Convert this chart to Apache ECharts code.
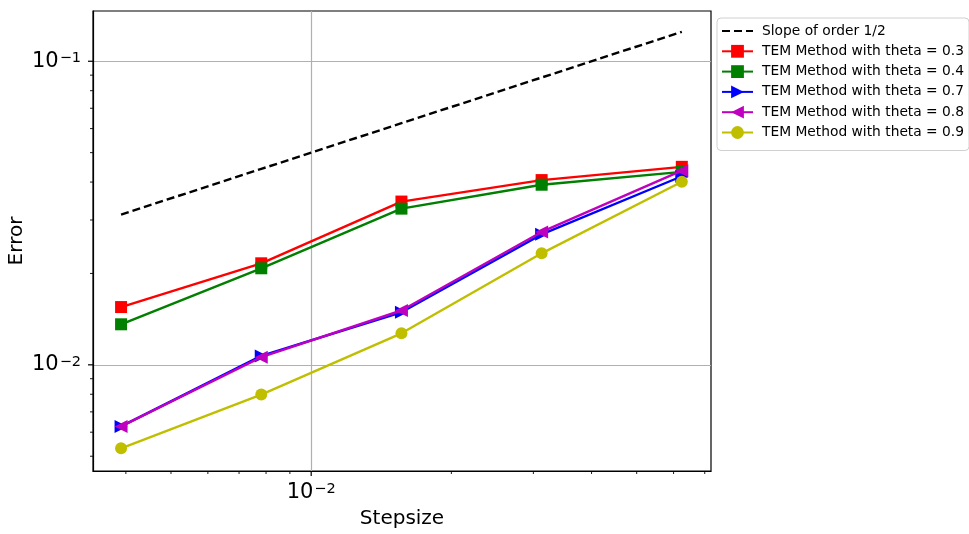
<!DOCTYPE html>
<html><head><meta charset="utf-8">
<script src="https://cdn.jsdelivr.net/npm/echarts@6/dist/echarts.min.js"></script>
<style>html,body{margin:0;padding:0;background:#fff}#c{width:969px;height:534px}</style>
</head><body><div id="c"></div>
<script>
// ---- data ----
const stepsizes = [0.00390625, 0.0078125, 0.015625, 0.03125, 0.0625];
const slopeRef = [0.03125, 0.0442, 0.0625, 0.0884, 0.125];
const theta03 = [0.0155, 0.0216, 0.0345, 0.0406, 0.0449];
const theta04 = [0.0136, 0.0208, 0.0327, 0.0392, 0.0432];
const theta07 = [0.00627, 0.0107, 0.0149, 0.0269, 0.0418];
const theta08 = [0.00627, 0.0106, 0.0151, 0.0274, 0.0436];
const theta09 = [0.00531, 0.00798, 0.0127, 0.0233, 0.0401];
const seriesNames = ['Slope of order 1/2', 'TEM Method with theta = 0.3', 'TEM Method with theta = 0.4',
  'TEM Method with theta = 0.7', 'TEM Method with theta = 0.8', 'TEM Method with theta = 0.9'];
const xMajorTicks = [0.01];
const xMinorTicks = [0.004, 0.005, 0.006, 0.007, 0.008, 0.009, 0.02, 0.03, 0.04, 0.05, 0.06, 0.07];
const yMajorTicks = [0.01, 0.1];
const yMinorTicks = [0.005, 0.006, 0.007, 0.008, 0.009, 0.02, 0.03, 0.04, 0.05, 0.06, 0.07, 0.08, 0.09];
const xRange = [0.0034, 0.0722];
const yRange = [0.00447, 0.1464];

// ---- helpers ----
function pairs(ys) { return stepsizes.map((x, i) => [x, ys[i]]); }
function isPow10(v) { const l = Math.log10(v); return Math.abs(l - Math.round(l)) < 1e-6; }
function powLabel(v) {
  if (!isPow10(v)) return '';
  const e = Math.round(Math.log10(v));
  return '{b|10}{s|' + (e < 0 ? '\u2212' : '') + Math.abs(e) + '}';
}
const richLbl = {
  b: { fontSize: 21, fontFamily: 'DejaVu Sans', color: '#000' },
  s: { fontSize: 14.5, fontFamily: 'DejaVu Sans', color: '#000', verticalAlign: 'top', padding: [0, 0, 0, 1] }
};
function tickLine(x1, y1, x2, y2, major) {
  return { type: 'line', shape: { x1, y1, x2, y2 }, style: { stroke: '#000', lineWidth: major ? 1.2 : 0.9 } };
}

const chart = echarts.init(document.getElementById('c'), null, { renderer: 'canvas' });
const lineW = 2.4;
const option = {
  animation: false,
  backgroundColor: '#fff',
  grid: { left: 93, right: 258, top: 11, bottom: 63, containLabel: false, outerBoundsMode: 'none',
    show: true, borderColor: '#000', borderWidth: 1.2, backgroundColor: 'transparent' },
  legend: {
    orient: 'vertical', left: 717, top: 18,
    padding: [6, 5, 11, 4], itemGap: 6.3, itemWidth: 31, itemHeight: 16,
    borderColor: '#d0d0d0', borderWidth: 1, borderRadius: 4,
    textStyle: { fontFamily: 'DejaVu Sans', fontSize: 13.8, color: '#000', padding: [0, 0, 0, 4] },
    data: [{ name: seriesNames[0], itemStyle: { opacity: 0 } }].concat(seriesNames.slice(1))
  },
  xAxis: {
    type: 'log', logBase: 10, min: xRange[0], max: xRange[1],
    name: 'Stepsize', nameLocation: 'middle', nameGap: 38, nameMoveOverlap: false,
    nameTextStyle: { fontFamily: 'DejaVu Sans', fontSize: 20, color: '#000' },
    axisLine: { show: true, lineStyle: { color: '#000', width: 1.2 } },
    axisTick: { show: false },
    axisLabel: { formatter: powLabel, rich: richLbl, margin: 11, showMinLabel: false, showMaxLabel: false },
    splitLine: { show: true, showMinLine: false, showMaxLine: false, lineStyle: { color: '#b0b0b0', width: 1.2 } },
    minorTick: { show: false }, minorSplitLine: { show: false }
  },
  yAxis: {
    type: 'log', logBase: 10, min: yRange[0], max: yRange[1],
    name: 'Error', nameLocation: 'middle', nameGap: 66, nameRotate: 90, nameMoveOverlap: false,
    nameTextStyle: { fontFamily: 'DejaVu Sans', fontSize: 20, color: '#000' },
    axisLine: { show: true, lineStyle: { color: '#000', width: 1.2 } },
    axisTick: { show: false },
    axisLabel: { formatter: powLabel, rich: richLbl, margin: 12, showMinLabel: false, showMaxLabel: false },
    splitLine: { show: true, showMinLine: false, showMaxLine: false, lineStyle: { color: '#b0b0b0', width: 1.2 } },
    minorTick: { show: false }, minorSplitLine: { show: false }
  },
  series: [
    { name: seriesNames[0], type: 'line', data: pairs(slopeRef), showSymbol: false, symbol: 'none',
      lineStyle: { color: '#000', width: lineW, type: [8, 4] }, itemStyle: { color: '#000' }, z: 3 },
    { name: seriesNames[1], type: 'line', data: pairs(theta03), symbol: 'rect', symbolSize: 12,
      lineStyle: { color: '#ff0000', width: lineW }, itemStyle: { color: '#ff0000' }, z: 4 },
    { name: seriesNames[2], type: 'line', data: pairs(theta04), symbol: 'rect', symbolSize: 12,
      lineStyle: { color: '#007f00', width: lineW }, itemStyle: { color: '#007f00' }, z: 5 },
    { name: seriesNames[3], type: 'line', data: pairs(theta07), symbol: 'triangle', symbolSize: 13, symbolRotate: -90,
      lineStyle: { color: '#0000ff', width: lineW }, itemStyle: { color: '#0000ff' }, z: 6 },
    { name: seriesNames[4], type: 'line', data: pairs(theta08), symbol: 'triangle', symbolSize: 13, symbolRotate: 90,
      lineStyle: { color: '#bf00bf', width: lineW }, itemStyle: { color: '#bf00bf' }, z: 7 },
    { name: seriesNames[5], type: 'line', data: pairs(theta09), symbol: 'circle', symbolSize: 12,
      lineStyle: { color: '#bfbf00', width: lineW }, itemStyle: { color: '#bfbf00' }, z: 8 },
    { type: 'custom', silent: true, clip: false, z: 10,
      data: xMajorTicks.concat(xMinorTicks).map(v => [v, yRange[0]]),
      renderItem: function (params, api) {
        const v = api.value(0);
        const p = api.coord([v, yRange[0]]);
        const major = xMajorTicks.indexOf(v) >= 0;
        return tickLine(p[0], p[1], p[0], p[1] + (major ? 5 : 3), major);
      } },
    { type: 'custom', silent: true, clip: false, z: 10,
      data: yMajorTicks.concat(yMinorTicks).map(v => [xRange[0], v]),
      renderItem: function (params, api) {
        const v = api.value(1);
        const p = api.coord([xRange[0], v]);
        const major = yMajorTicks.indexOf(v) >= 0;
        return tickLine(p[0], p[1], p[0] - (major ? 5 : 3), p[1], major);
      } }
  ]
};
chart.setOption(option);
</script>
</body></html>
